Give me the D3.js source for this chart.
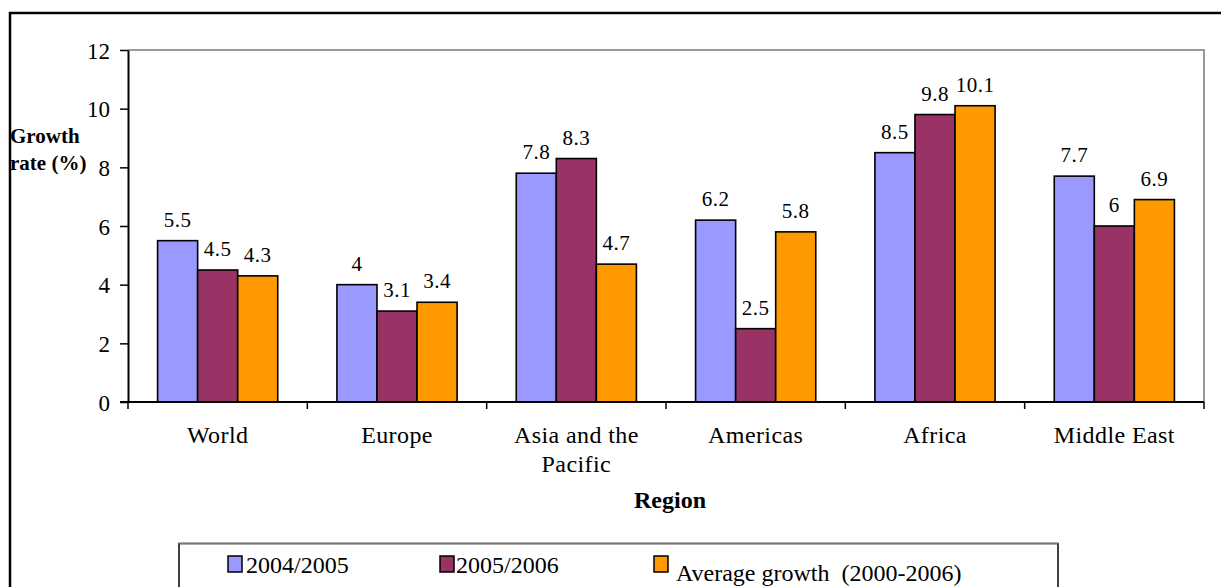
<!DOCTYPE html>
<html><head><meta charset="utf-8">
<script src="https://cdn.jsdelivr.net/npm/d3@7/dist/d3.min.js"></script>
<style>body{margin:0;background:#fff}svg{display:block}svg text{font-family:"Liberation Serif","Times New Roman",serif !important;fill:#000}</style>
</head><body><svg id="c" width="1221" height="587"></svg>
<script>
const categories = ["World","Europe","Asia and the Pacific","Americas","Africa","Middle East"];
const seriesNames = ["2004/2005","2005/2006","Average growth  (2000-2006)"];
const s2004 = [5.5,4,7.8,6.2,8.5,7.7];
const s2005 = [4.5,3.1,8.3,2.5,9.8,6];
const sAvg = [4.3,3.4,4.7,5.8,10.1,6.9];
const yTicks = [0,2,4,6,8,10,12];
const colors = ["#9999FF","#993366","#FF9900"];

const svg = d3.select("#c");
const L=128, R=1204, T=50, B=402;
// outer border
svg.append("rect").attr("x",10).attr("y",13).attr("width",1240).attr("height",600)
  .attr("fill","none").attr("stroke","#000").attr("stroke-width",2.5);

const x0 = d3.scaleBand().domain(categories).range([L,R]).paddingInner(0.33).paddingOuter(0.165);
const x1 = d3.scaleBand().domain([0,1,2]).range([0,x0.bandwidth()]);
const y = d3.scaleLinear().domain([0,12]).range([B,T]);

// plot border (top/right gray)
svg.append("path").attr("d",`M${L},${T}H${R}V${B}`).attr("fill","none").attr("stroke","#999").attr("stroke-width",2);

const series=[s2004,s2005,sAvg];
const data = categories.map((c,i)=>({c, v:series.map(s=>s[i])}));
const g = svg.append("g");
data.forEach(d=>{
  d.v.forEach((v,k)=>{
    const bx = x0(d.c)+x1(k);
    g.append("rect").attr("x",bx).attr("y",y(v)).attr("width",x1.bandwidth()).attr("height",y(0)-y(v))
      .attr("fill",colors[k]).attr("stroke","#000").attr("stroke-width",1.6);
    g.append("text").attr("x",bx+x1.bandwidth()/2).attr("y",y(v)-14).attr("text-anchor","middle")
      .attr("font-size",21).style("letter-spacing","0.5px").text(String(v));
  });
});

// y axis
const ya = svg.append("g").attr("transform",`translate(${L},0)`)
  .call(d3.axisLeft(y).tickValues(yTicks).tickSize(8).tickSizeOuter(0).tickPadding(10));
ya.attr("font-family",null).attr("font-size",null);
ya.select(".domain").attr("stroke","#000").attr("stroke-width",2);
ya.selectAll("line").attr("stroke","#000").attr("stroke-width",1.5);
ya.selectAll("text").attr("font-size",23).attr("dy","0.35em");

// x axis
const xa = svg.append("g").attr("transform",`translate(0,${B})`);
xa.append("line").attr("x1",L-8).attr("x2",R).attr("stroke","#000").attr("stroke-width",2);
const bounds = categories.map(c=>x0(c)-(x0.step()-x0.bandwidth())/2).concat([R]);
bounds.forEach(b=>xa.append("line").attr("x1",b).attr("x2",b).attr("y1",0).attr("y2",7).attr("stroke","#000").attr("stroke-width",1.5));
categories.forEach(c=>{
  const cx = x0(c)+x0.bandwidth()/2;
  const lines = c==="Asia and the Pacific" ? ["Asia and the","Pacific"] : [c];
  lines.forEach((t,i)=>xa.append("text").attr("x",cx).attr("y",41+i*29).attr("text-anchor","middle")
    .attr("font-size",24).style("letter-spacing","0.4px").text(t));
});

// axis titles
svg.append("text").attr("x",10).attr("y",143).attr("font-size",21).attr("font-weight","bold").text("Growth");
svg.append("text").attr("x",10).attr("y",170).attr("font-size",21).attr("font-weight","bold").text("rate (%)");
svg.append("text").attr("x",670).attr("y",508).attr("text-anchor","middle").attr("font-size",24).attr("font-weight","bold").text("Region");

// legend
svg.append("rect").attr("x",179).attr("y",543.5).attr("width",879).attr("height",50)
  .attr("fill","#fff").attr("stroke","#000").attr("stroke-width",1.5);
svg.append("line").attr("x1",179).attr("x2",1058).attr("y1",543.5).attr("y2",543.5).attr("stroke","#777").attr("stroke-width",1.5);
const legX=[228,440,654], legTX=[246,456,676], legTY=[573,573,581];
seriesNames.forEach((n,k)=>{
  svg.append("rect").attr("x",legX[k]).attr("y",556).attr("width",14).attr("height",16)
    .attr("fill",colors[k]).attr("stroke","#000").attr("stroke-width",1.5);
  svg.append("text").attr("x",legTX[k]).attr("y",legTY[k]).attr("font-size",24)
    .attr("xml:space","preserve").style("white-space","pre").text(n);
});
</script></body></html>
